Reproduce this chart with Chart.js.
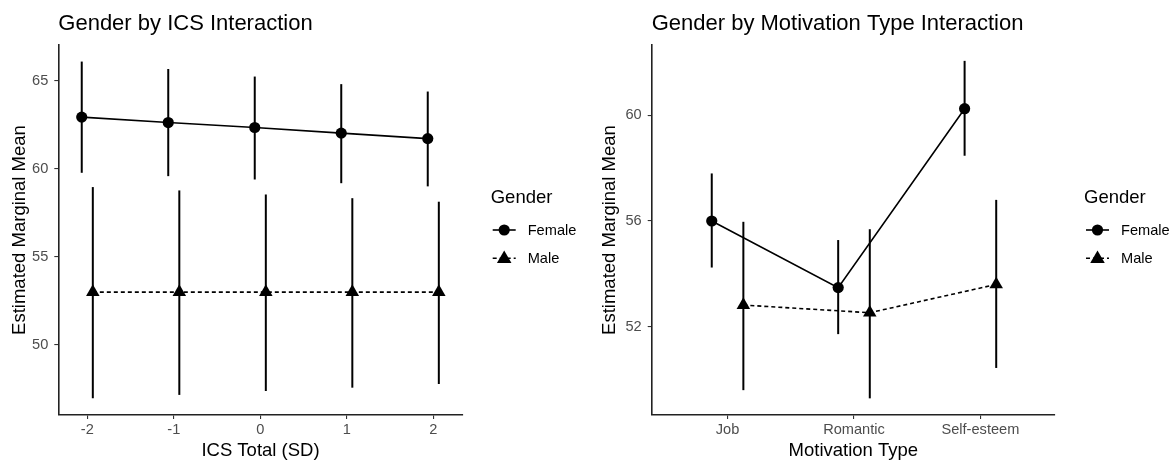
<!DOCTYPE html>
<html><head><meta charset="utf-8">
<script src="https://cdn.jsdelivr.net/npm/chart.js@4.4.1/dist/chart.umd.min.js"></script>
<style>
html,body{margin:0;padding:0;background:#fff;overflow:hidden;width:1175px;height:462px}
#c1{position:absolute;left:0;top:0}
#c2{position:absolute;left:590px;top:0}
</style></head><body>
<canvas id="c1" width="590" height="462"></canvas>
<canvas id="c2" width="585" height="462"></canvas>
<script>
// ---------- data ----------
const icsLevels = [-2, -1, 0, 1, 2];
const icsTickLabels = ['-2', '-1', '0', '1', '2'];
const femaleIcsMean = [62.93, 62.62, 62.34, 62.02, 61.71];
const femaleIcsLow  = [59.77, 59.58, 59.39, 59.18, 59.00];
const femaleIcsHigh = [66.08, 65.66, 65.23, 64.80, 64.38];
const maleIcsMean   = [53.00, 53.00, 53.00, 53.00, 53.00];
const maleIcsLow    = [46.98, 47.17, 47.39, 47.58, 47.79];
const maleIcsHigh   = [58.96, 58.77, 58.54, 58.33, 58.13];
const icsYTicks = [50, 55, 60, 65];

const motCategories = ['Job', 'Romantic', 'Self-esteem'];
const femaleMotMean = [56.00, 53.48, 60.25];
const femaleMotLow  = [54.24, 51.72, 58.47];
const femaleMotHigh = [57.80, 55.28, 62.06];
const maleMotMean   = [52.82, 52.53, 53.60];
const maleMotLow    = [49.60, 49.29, 50.44];
const maleMotHigh   = [55.97, 55.69, 56.80];
const motYTicks = [52, 56, 60];

const genderNames = ['Female', 'Male'];
const legendTitle = 'Gender';

// ---------- styling ----------
const FONT = "'Liberation Sans', Arial, sans-serif";
Chart.defaults.font.family = FONT;
Chart.defaults.color = '#000';

const errorBarPlugin = {
  id: 'errorBars',
  beforeDatasetsDraw(chart) {
    const {ctx, scales: {x, y}} = chart;
    ctx.save();
    ctx.strokeStyle = '#000';
    ctx.lineWidth = 2;
    chart.data.datasets.forEach(ds => {
      ds.data.forEach((p, i) => {
        const px = x.getPixelForValue(p.x);
        ctx.beginPath();
        ctx.moveTo(px, y.getPixelForValue(ds.errLow[i]));
        ctx.lineTo(px, y.getPixelForValue(ds.errHigh[i]));
        ctx.stroke();
      });
    });
    ctx.restore();
  }
};

const ggLegendPlugin = {
  id: 'ggLegend',
  afterDraw(chart, args, opts) {
    const {ctx, chartArea} = chart;
    const x0 = chartArea.right + opts.gap;
    ctx.save();
    ctx.fillStyle = '#000';
    ctx.textBaseline = 'middle';
    ctx.textAlign = 'left';
    ctx.font = '18.5px ' + FONT;
    ctx.fillText(legendTitle, x0, 198);
    const ys = [230, 258.3];
    chart.data.datasets.forEach((ds, i) => {
      const y = ys[i];
      const cx = x0 + 13.5;
      ctx.strokeStyle = '#000';
      ctx.lineWidth = 1.6;
      ctx.setLineDash(ds.borderDash || []);
      ctx.beginPath();
      ctx.moveTo(x0 + 2, y);
      ctx.lineTo(x0 + 25, y);
      ctx.stroke();
      ctx.setLineDash([]);
      ctx.fillStyle = '#000';
      ctx.beginPath();
      if (ds.pointStyle === 'triangle') {
        const r = ds.pointRadius + 0.6;
        const cy = y + 0.5;
        ctx.moveTo(cx, cy - r);
        ctx.lineTo(cx + r * 0.866, cy + r / 2);
        ctx.lineTo(cx - r * 0.866, cy + r / 2);
      } else {
        ctx.arc(cx, y, ds.pointRadius, 0, Math.PI * 2);
      }
      ctx.closePath();
      ctx.fill();
      ctx.font = '14.6px ' + FONT;
      ctx.fillText(genderNames[i], x0 + 37, y + 1);
    });
    ctx.restore();
  }
};

function makeDataset(name, xs, means, lows, highs, dodge, isMale) {
  return {
    label: name,
    data: xs.map((v, i) => ({x: v + dodge, y: means[i]})),
    errLow: lows,
    errHigh: highs,
    showLine: true,
    borderColor: '#000',
    backgroundColor: '#000',
    borderWidth: 1.6,
    borderDash: isMale ? [4, 3] : [],
    pointStyle: isMale ? 'triangle' : 'circle',
    pointRadius: isMale ? 7.8 : 5.6,
    pointBorderWidth: 0,
    pointHoverRadius: isMale ? 7.8 : 5.6,
    tension: 0
  };
}

function makeChart(canvas, cfg) {
  return new Chart(canvas, {
    type: 'scatter',
    data: {datasets: cfg.datasets},
    plugins: [errorBarPlugin, ggLegendPlugin],
    options: {
      responsive: false,
      animation: false,
      devicePixelRatio: 1,
      layout: {padding: {left: 0, right: cfg.rightPad, top: 0, bottom: 0}},
      plugins: {
        legend: {display: false},
        tooltip: {enabled: false},
        ggLegend: {gap: cfg.legendGap},
        title: {
          display: true, text: cfg.title, align: 'start', fullSize: false,
          color: '#000',
          font: {size: 22, weight: 'normal', family: FONT, lineHeight: 1.2},
          padding: {top: 11, bottom: 7.6}
        }
      },
      scales: {
        x: {
          type: 'linear', min: cfg.xMin, max: cfg.xMax,
          afterFit(s) { s.height = 47; },
          afterBuildTicks(s) { s.ticks = cfg.xTicks.map(v => ({value: v})); },
          grid: {drawOnChartArea: false, drawTicks: true, tickLength: 4, color: '#333', lineWidth: 1.1},
          border: {display: true, color: '#222', width: 1.6},
          ticks: {
            color: '#4D4D4D', font: {size: 14.6, family: FONT}, padding: 2,
            maxRotation: 0, autoSkip: false,
            callback: (v) => cfg.xLabels[cfg.xTicks.indexOf(v)]
          },
          title: {display: true, text: cfg.xTitle, color: '#000', font: {size: 18.5, family: FONT}, padding: {top: 0, bottom: 0}}
        },
        y: {
          type: 'linear', min: cfg.yMin, max: cfg.yMax,
          afterFit(s) { s.width = cfg.yWidth; },
          afterBuildTicks(s) { s.ticks = cfg.yTicks.map(v => ({value: v})); },
          grid: {drawOnChartArea: false, drawTicks: true, tickLength: 4, color: '#333', lineWidth: 1.1},
          border: {display: true, color: '#222', width: 1.6},
          ticks: {color: '#4D4D4D', font: {size: 14.6, family: FONT}, padding: 6},
          title: {display: true, text: 'Estimated Marginal Mean', color: '#000', font: {size: 18.5, family: FONT}, padding: {top: 9, bottom: 0}}
        }
      }
    }
  });
}

makeChart(document.getElementById('c1'), {
  title: 'Gender by ICS Interaction',
  xTitle: 'ICS Total (SD)',
  datasets: [
    makeDataset(genderNames[0], icsLevels, femaleIcsMean, femaleIcsLow, femaleIcsHigh, -0.064, false),
    makeDataset(genderNames[1], icsLevels, maleIcsMean, maleIcsLow, maleIcsHigh, 0.064, true)
  ],
  xMin: -2.335, xMax: 2.34, xTicks: icsLevels, xLabels: icsTickLabels,
  yMin: 46.03, yMax: 67.02, yTicks: icsYTicks,
  yWidth: 58.3, rightPad: 127.3, legendGap: 28
});

const motIdx = motCategories.map((c, i) => i);
makeChart(document.getElementById('c2'), {
  title: 'Gender by Motivation Type Interaction',
  xTitle: 'Motivation Type',
  datasets: [
    makeDataset(genderNames[0], motIdx, femaleMotMean, femaleMotLow, femaleMotHigh, -0.125, false),
    makeDataset(genderNames[1], motIdx, maleMotMean, maleMotLow, maleMotHigh, 0.125, true)
  ],
  xMin: -0.6, xMax: 2.59, xTicks: motIdx, xLabels: motCategories,
  yMin: 48.66, yMax: 62.66, yTicks: motYTicks,
  yWidth: 61.7, rightPad: 120, legendGap: 29
});
</script>
</body></html>
